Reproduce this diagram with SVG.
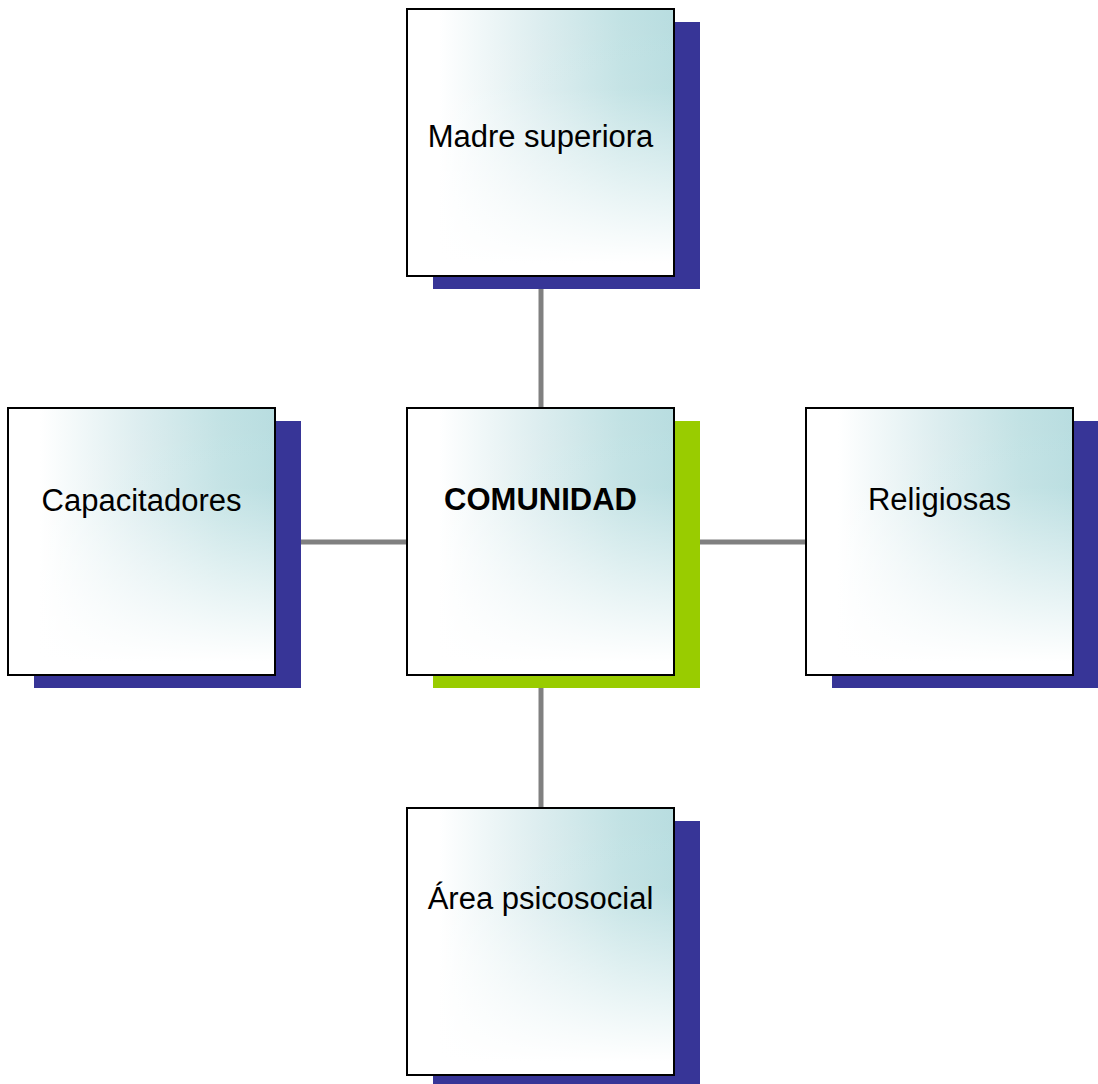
<svg xmlns="http://www.w3.org/2000/svg" width="1098" height="1084" viewBox="0 0 1098 1084">
<defs>
<linearGradient id="gh" x1="0" y1="0" x2="1" y2="0">
<stop offset="0" stop-color="#ffffff"/>
<stop offset="0.12" stop-color="#ffffff"/>
<stop offset="0.5" stop-color="#dcedef"/>
<stop offset="0.8" stop-color="#c2e2e4"/>
<stop offset="1" stop-color="#b8dde0"/>
</linearGradient>
<linearGradient id="gv" x1="0" y1="0" x2="0" y2="1">
<stop offset="0" stop-color="#ffffff" stop-opacity="0"/>
<stop offset="0.3" stop-color="#ffffff" stop-opacity="0.05"/>
<stop offset="0.95" stop-color="#ffffff" stop-opacity="1"/>
</linearGradient>
</defs>
<style>
.sh{fill:#373597}
.shg{fill:#99cc00}
.bg{fill:url(#gh)}
.ov{fill:url(#gv)}
.bd{fill:none;stroke:#000;stroke-width:2}
.t{font-family:"Liberation Sans",Arial,sans-serif;font-size:31px;fill:#000;text-anchor:middle}
.b{font-weight:bold}
.c{stroke:#808080;stroke-width:5;fill:none}
</style>
<g id="connectors">
<line class="c" x1="541" y1="289" x2="541" y2="408"/>
<line class="c" x1="541" y1="688" x2="541" y2="808"/>
<line class="c" x1="301" y1="542" x2="407" y2="542"/>
<line class="c" x1="700" y1="542" x2="807" y2="542"/>
</g>
<g id="madre">
<rect class="sh" x="433" y="22" width="267" height="267"/>
<rect class="bg" x="407" y="9" width="267" height="267"/>
<rect class="ov" x="407" y="9" width="267" height="267"/>
<rect class="bd" x="407" y="9" width="267" height="267"/>
<text class="t" x="540.5" y="147">Madre superiora</text>
</g>
<g id="comunidad">
<rect class="shg" x="433" y="421" width="267" height="267"/>
<rect class="bg" x="407" y="408" width="267" height="267"/>
<rect class="ov" x="407" y="408" width="267" height="267"/>
<rect class="bd" x="407" y="408" width="267" height="267"/>
<text class="t b" x="540.5" y="510">COMUNIDAD</text>
</g>
<g id="capacitadores">
<rect class="sh" x="34" y="421" width="267" height="267"/>
<rect class="bg" x="8" y="408" width="267" height="267"/>
<rect class="ov" x="8" y="408" width="267" height="267"/>
<rect class="bd" x="8" y="408" width="267" height="267"/>
<text class="t" x="141.5" y="510.5">Capacitadores</text>
</g>
<g id="religiosas">
<rect class="sh" x="832" y="421" width="267" height="267"/>
<rect class="bg" x="806" y="408" width="267" height="267"/>
<rect class="ov" x="806" y="408" width="267" height="267"/>
<rect class="bd" x="806" y="408" width="267" height="267"/>
<text class="t" x="939.5" y="510">Religiosas</text>
</g>
<g id="area">
<rect class="sh" x="433" y="821" width="267" height="267"/>
<rect class="bg" x="407" y="808" width="267" height="267"/>
<rect class="ov" x="407" y="808" width="267" height="267"/>
<rect class="bd" x="407" y="808" width="267" height="267"/>
<text class="t" x="540.5" y="909">Área psicosocial</text>
</g>
</svg>
